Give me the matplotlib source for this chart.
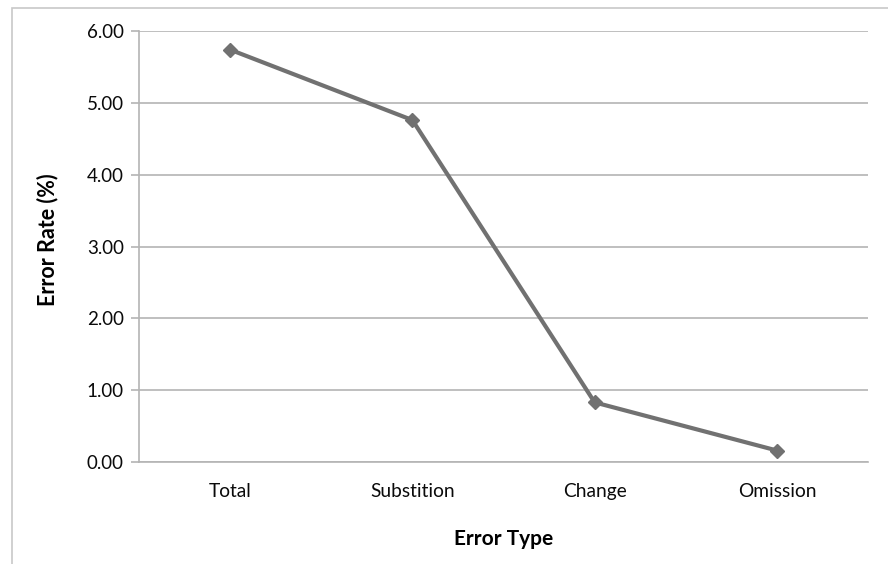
import matplotlib
matplotlib.use("Agg")
import matplotlib.pyplot as plt
from matplotlib.patches import Rectangle

categories = ["Total", "Substition", "Change", "Omission"]
error_rate = [5.74, 4.76, 0.83, 0.16]
y_ticks = [0.0, 1.0, 2.0, 3.0, 4.0, 5.0, 6.0]

W, H = 888, 564
plt.rcParams["font.family"] = ["Lato", "DejaVu Sans"]
fig = plt.figure(figsize=(W / 100, H / 100), dpi=100)

# outer chart frame
fig.patches.append(Rectangle((12 / W, -0.05), 1.0, 1 - 8 / H + 0.05,
                             transform=fig.transFigure, fill=False,
                             edgecolor="#c8c8c8", linewidth=1.2))

left, right, top, bottom = 139, 868, 31, 462
ax = fig.add_axes([left / W, 1 - bottom / H, (right - left) / W, (bottom - top) / H])

x = range(len(categories))
ax.plot(x, error_rate, color="#717171", linewidth=3, marker="D",
        markersize=7, markerfacecolor="#717171", markeredgecolor="#717171",
        zorder=3)

ax.set_xlim(-0.5, len(categories) - 0.5)
ax.set_ylim(0, 6)
ax.set_yticks(y_ticks)
ax.set_yticklabels([f"{v:.2f}" for v in y_ticks])
ax.set_xticks(list(x))
ax.set_xticklabels(categories)

ax.grid(axis="y", color="#b4b4b4", linewidth=1.2)
ax.set_axisbelow(True)
for side in ["top", "right"]:
    ax.spines[side].set_visible(False)
ax.spines["left"].set_color("#b4b4b4")
ax.spines["left"].set_linewidth(1.2)
ax.spines["bottom"].set_color("#b4b4b4")
ax.spines["bottom"].set_linewidth(1.2)

ax.tick_params(axis="y", length=6, width=1.2, color="#b4b4b4", pad=5,
               labelsize=13.5, labelcolor="#0a0a0a")
ax.tick_params(axis="x", length=0, pad=15, labelsize=13.8, labelcolor="#0a0a0a")

ax.set_ylabel("Error Rate (%)", fontsize=15.5, fontweight="bold")
ax.yaxis.set_label_coords(-0.110, 0.515)
ax.set_xlabel("Error Type", fontsize=15, fontweight="bold", labelpad=21)

fig.savefig("out.png", dpi=100)
